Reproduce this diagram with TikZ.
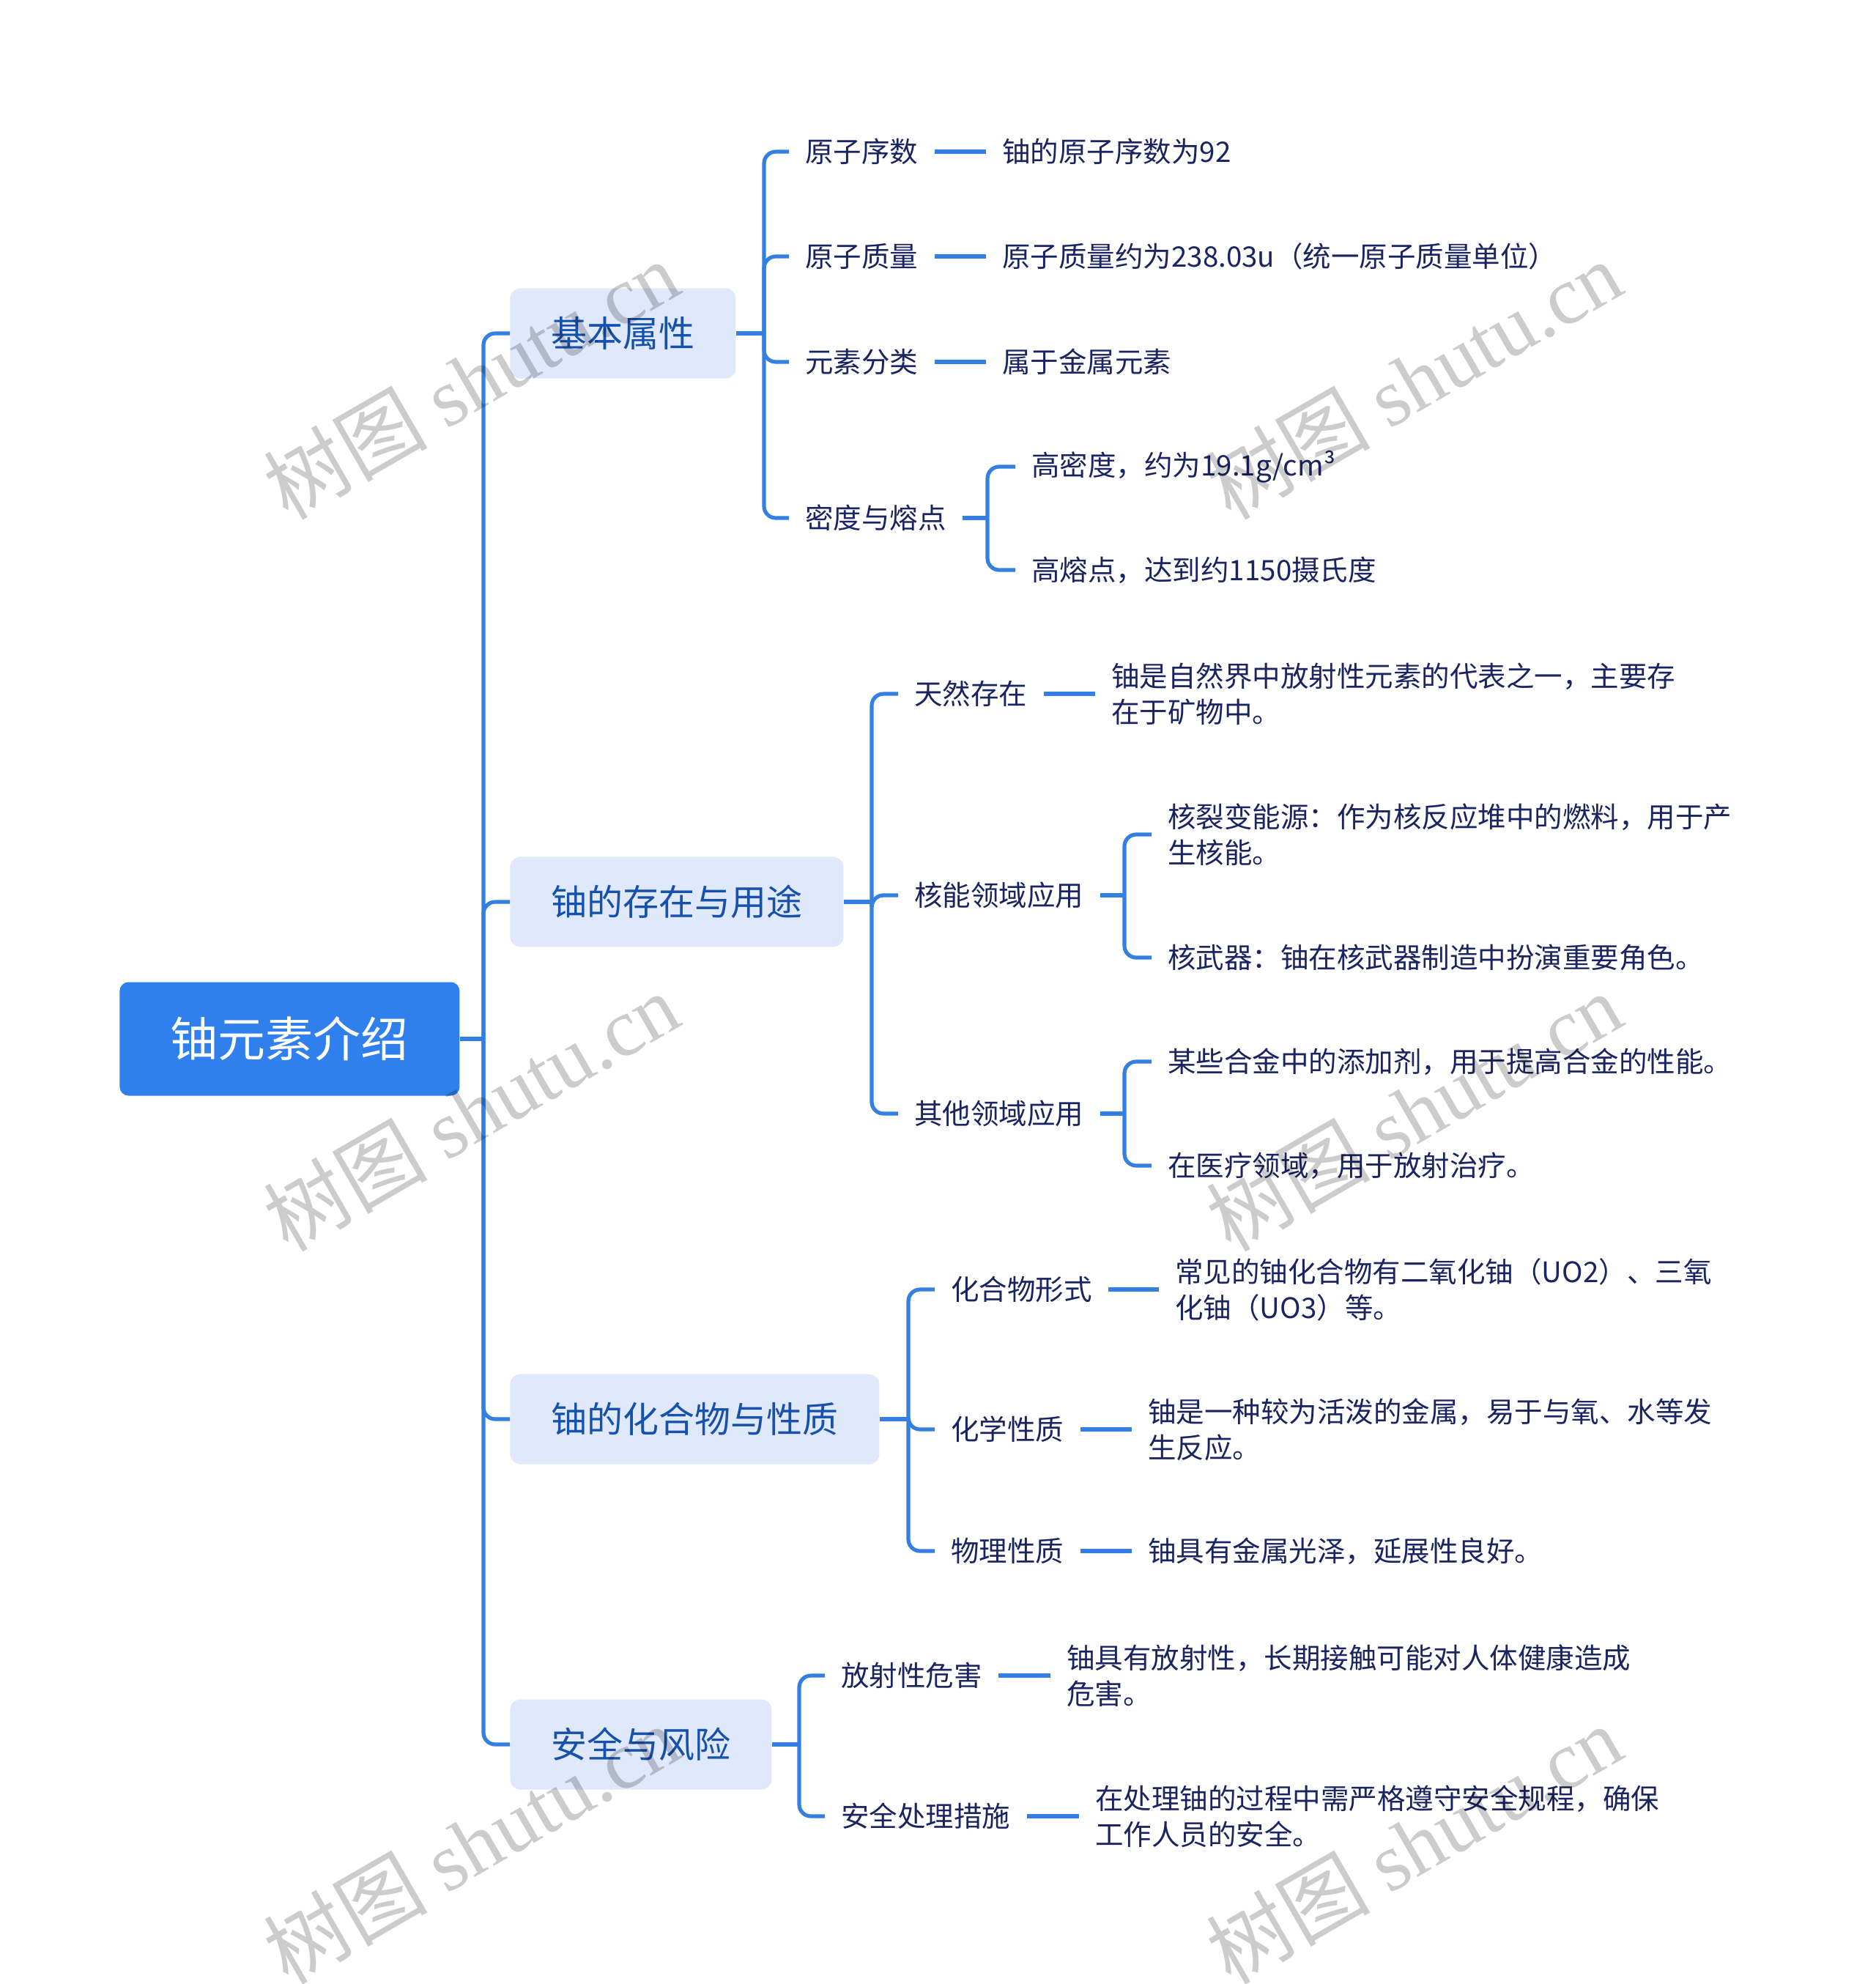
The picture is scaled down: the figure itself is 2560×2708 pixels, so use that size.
\documentclass[tikz,border=0pt]{standalone}
\usepackage{fontspec}
\setmainfont{Noto Sans CJK SC}
\newfontfamily\wmlatin{Liberation Serif}
\definecolor{rootblue}{RGB}{47,128,237}
\definecolor{linkblue}{RGB}{52,128,226}
\definecolor{lvfill}{RGB}{224,232,252}
\definecolor{lvtext}{RGB}{22,82,172}
\definecolor{leaftext}{RGB}{26,36,96}
\begin{document}
\begin{tikzpicture}[x=0.5pt,y=-0.5pt,
  rootbox/.style={fill=rootblue, text=white, rounded corners=6pt, font=\fontsize{32.5pt}{40pt}\selectfont, minimum width=232pt, minimum height=77.5pt, inner sep=0pt, anchor=west},
  topicbox/.style={fill=lvfill, text=lvtext, rounded corners=7pt, font=\fontsize{24.5pt}{30pt}\selectfont, inner xsep=28pt, inner ysep=0pt, minimum height=61.5pt, anchor=west},
  subbox/.style={text=leaftext, font=\fontsize{19.25pt}{24.5pt}\selectfont, inner xsep=11pt, inner ysep=3pt, anchor=west, align=left},
  conn/.style={draw=linkblue, line width=2.6pt},
  bendconn/.style={conn, rounded corners=8pt},
  wm/.style={font=\fontsize{56pt}{60pt}\selectfont, rotate=30, text=black, opacity=0.2}
]
\fill[white] (0,0) rectangle (2560,2708);
\useasboundingbox (0,0) rectangle (2560,2708);

% root and topics
\node[rootbox] (root) at (163,1418) {铀元素介绍};
\node[topicbox] (t1) at (696,455) {基本属性};
\node[topicbox] (t2) at (696,1231) {铀的存在与用途};
\node[topicbox] (t3) at (696,1937) {铀的化合物与性质};
\node[topicbox] (t4) at (696,2381) {安全与风险};

\coordinate (j0) at (660,1418);
\coordinate (j1) at (1043,455);
\coordinate (j2) at (1190,1231);
\coordinate (j3) at (1240,1937);
\coordinate (j4) at (1091,2381);

% group 1
\node[subbox] (a1) at (1077,207) {原子序数};
\node[subbox] (a2) at (1077,350) {原子质量};
\node[subbox] (a3) at (1077,494) {元素分类};
\node[subbox] (a4) at (1077,707) {密度与熔点};
\node[subbox] (a1l) at (1346,207) {铀的原子序数为92};
\node[subbox] (a2l) at (1346,350) {原子质量约为238.03u（统一原子质量单位）};
\node[subbox] (a3l) at (1346,494) {属于金属元素};
\coordinate (j14) at (1348,707);
\node[subbox] (a4a) at (1386,637) {高密度，约为19.1g/cm³};
\node[subbox] (a4b) at (1386,778) {高熔点，达到约1150摄氏度};

% group 2
\node[subbox] (b1) at (1226,947) {天然存在};
\node[subbox] (b1l) at (1495,947) {铀是自然界中放射性元素的代表之一，主要存\\在于矿物中。};
\node[subbox] (b2) at (1226,1222) {核能领域应用};
\coordinate (j22) at (1535,1222);
\node[subbox] (b2a) at (1572,1139) {核裂变能源：作为核反应堆中的燃料，用于产\\生核能。};
\node[subbox] (b2b) at (1572,1307) {核武器：铀在核武器制造中扮演重要角色。};
\node[subbox] (b3) at (1226,1520) {其他领域应用};
\coordinate (j23) at (1535,1520);
\node[subbox] (b3a) at (1572,1449) {某些合金中的添加剂，用于提高合金的性能。};
\node[subbox] (b3b) at (1572,1591) {在医疗领域，用于放射治疗。};

% group 3
\node[subbox] (c1) at (1276,1760) {化合物形式};
\node[subbox] (c1l) at (1582,1760) {常见的铀化合物有二氧化铀（UO2）、三氧\\化铀（UO3）等。};
\node[subbox] (c2) at (1276,1951) {化学性质};
\node[subbox] (c2l) at (1545,1951) {铀是一种较为活泼的金属，易于与氧、水等发\\生反应。};
\node[subbox] (c3) at (1276,2117) {物理性质};
\node[subbox] (c3l) at (1545,2117) {铀具有金属光泽，延展性良好。};

% group 4
\node[subbox] (d1) at (1126,2287) {放射性危害};
\node[subbox] (d1l) at (1434,2287) {铀具有放射性，长期接触可能对人体健康造成\\危害。};
\node[subbox] (d2) at (1126,2479) {安全处理措施};
\node[subbox] (d2l) at (1473,2479) {在处理铀的过程中需严格遵守安全规程，确保\\工作人员的安全。};

% connectors
\draw[conn] (root.east) -- (j0);
\foreach \t in {t1,t2,t3,t4} \draw[bendconn] (j0) |- (\t.west);

\draw[conn] (t1.east) -- (j1);
\foreach \n in {a1,a2,a3,a4} \draw[bendconn] (j1) |- (\n.west);
\draw[conn] (a1.east) -- (a1l.west);
\draw[conn] (a2.east) -- (a2l.west);
\draw[conn] (a3.east) -- (a3l.west);
\draw[conn] (a4.east) -- (j14);
\draw[bendconn] (j14) |- (a4a.west);
\draw[bendconn] (j14) |- (a4b.west);

\draw[conn] (t2.east) -- (j2);
\foreach \n in {b1,b2,b3} \draw[bendconn] (j2) |- (\n.west);
\draw[conn] (b1.east) -- (b1l.west);
\draw[conn] (b2.east) -- (j22);
\draw[bendconn] (j22) |- (b2a.west);
\draw[bendconn] (j22) |- (b2b.west);
\draw[conn] (b3.east) -- (j23);
\draw[bendconn] (j23) |- (b3a.west);
\draw[bendconn] (j23) |- (b3b.west);

\draw[conn] (t3.east) -- (j3);
\foreach \n in {c1,c2,c3} \draw[bendconn] (j3) |- (\n.west);
\draw[conn] (c1.east) -- (c1l.west);
\draw[conn] (c2.east) -- (c2l.west);
\draw[conn] (c3.east) -- (c3l.west);

\draw[conn] (t4.east) -- (j4);
\foreach \n in {d1,d2} \draw[bendconn] (j4) |- (\n.west);
\draw[conn] (d1.east) -- (d1l.west);
\draw[conn] (d2.east) -- (d2l.west);

% watermarks
\foreach \x/\y/\i in {643/518/1,1930/518/2,643/1517/3,1930/1517/4,643/2517/5,1930/2517/6}
  \node[wm] (wm\i) at (\x,\y) {树图 {\wmlatin shutu.cn}};
\end{tikzpicture}
\end{document}
